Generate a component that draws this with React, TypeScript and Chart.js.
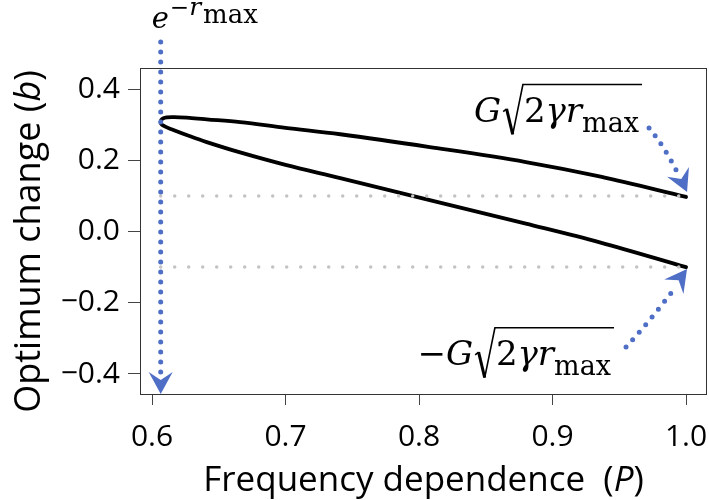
import React, { useEffect, useRef } from "react";
import { Chart, registerables } from "chart.js";

Chart.register(...registerables);

// ---- data ----
const X_TICKS = [0.6, 0.7, 0.8, 0.9, 1.0];
const Y_TICKS = [-0.4, -0.2, 0.0, 0.2, 0.4];
const X_MIN = 0.591;
const X_MAX = 1.0157;
const Y_MIN = -0.459;
const Y_MAX = 0.459;

// upper branch, from P = 1 back towards the fold
const UPPER_P = [1.0, 0.936, 0.88, 0.808, 0.741, 0.7, 0.666, 0.641, 0.628, 0.616, 0.6085];
const UPPER_B = [0.097, 0.154, 0.195, 0.237, 0.273, 0.291, 0.307, 0.315, 0.319, 0.321, 0.318];
// fold (tip) of the curve: P = e^{-r_max}
const TIP_P = 0.6065;
const TIP_B = 0.307;
// lower branch, from the fold out to P = 1
const LOWER_P = [0.6085, 0.616, 0.628, 0.641, 0.666, 0.7, 0.741, 0.808, 0.88, 0.936, 1.0];
const LOWER_B = [0.297, 0.285, 0.268, 0.251, 0.222, 0.187, 0.15, 0.088, 0.022, -0.031, -0.1];

// dotted bounds +/- G*sqrt(2*gamma*r_max)
const BOUNDS = [0.1, -0.1];
const BOUND_END_P = 1.0;

const BLUE = "#4f6fc6";
const SERIF = '"DejaVu Serif"';
const SANS = '"Open Sans"';

function arrowHead(ctx: CanvasRenderingContext2D, tx: number, ty: number, dx: number, dy: number, L = 22, W = 12, notch = 8) {
  const len = Math.hypot(dx, dy);
  const ux = dx / len, uy = dy / len;
  const px = -uy, py = ux;
  ctx.beginPath();
  ctx.moveTo(tx, ty);
  ctx.lineTo(tx - L * ux + W * px, ty - L * uy + W * py);
  ctx.lineTo(tx - (L - notch) * ux, ty - (L - notch) * uy);
  ctx.lineTo(tx - L * ux - W * px, ty - L * uy - W * py);
  ctx.closePath();
  ctx.fill();
}

function drawRootLabel(ctx: CanvasRenderingContext2D, rightX: number, base: number, negative: boolean, s: number) {
  const up = `${s}px ${SERIF}`;
  const it = `italic ${s}px ${SERIF}`;
  const sub = `${Math.round(s * 0.8)}px ${SERIF}`;
  const w = (t: string, f: string) => { ctx.font = f; return ctx.measureText(t).width; };
  const radW = s * 0.58;
  const parts: [string, string, number][] = [];
  if (negative) parts.push(["\u2212", up, 0]);
  parts.push(["G", it, 0]);
  let total = 0;
  parts.forEach(p => total += w(p[0], p[1]));
  total += 2 + radW;
  const rad: [string, string, number][] = [["2", up, 0], ["\u03B3", it, 0], ["r", it, 0], ["max", sub, 0.3 * s]];
  let radTotal = 0;
  rad.forEach(p => radTotal += w(p[0], p[1]));
  total += radTotal + 2;
  let x = rightX - total;
  ctx.fillStyle = "#000";
  ctx.textBaseline = "alphabetic";
  ctx.textAlign = "left";
  for (const p of parts) { ctx.font = p[1]; ctx.fillText(p[0], x, base + p[2]); x += w(p[0], p[1]); }
  x += 2;
  const top = base - 1.1 * s;
  const bot = base + 0.37 * s;
  ctx.strokeStyle = "#000";
  ctx.lineJoin = "miter";
  ctx.lineCap = "butt";
  ctx.lineWidth = 1.6;
  ctx.beginPath();
  ctx.moveTo(x, base - 0.3 * s);
  ctx.lineTo(x + 0.1 * s, base - 0.38 * s);
  ctx.stroke();
  ctx.lineWidth = 3;
  ctx.beginPath();
  ctx.moveTo(x + 0.1 * s, base - 0.38 * s);
  ctx.lineTo(x + 0.28 * s, bot);
  ctx.stroke();
  ctx.lineWidth = 1.6;
  ctx.beginPath();
  ctx.moveTo(x + 0.28 * s, bot);
  ctx.lineTo(x + radW, top);
  ctx.lineTo(x + radW + radTotal + 4, top);
  ctx.stroke();
  x += radW + 1;
  for (const p of rad) { ctx.font = p[1]; ctx.fillText(p[0], x, base + p[2]); x += w(p[0], p[1]); }
}

const annotations = {
  id: "annotations",
  afterDatasetsDraw(chart: any) {
    const { ctx, chartArea: a, scales } = chart;
    const xs = scales.x, ys = scales.y;
    ctx.save();
    // frame
    ctx.strokeStyle = "#333";
    ctx.lineWidth = 1;
    ctx.strokeRect(a.left + 0.5, a.top + 0.5, a.right - a.left - 1, a.bottom - a.top - 1);

    // vertical blue dotted arrow at P = e^{-r_max}
    const vx = xs.getPixelForValue(TIP_P);
    ctx.strokeStyle = BLUE;
    ctx.fillStyle = BLUE;
    ctx.lineWidth = 5;
    ctx.lineCap = "round";
    ctx.setLineDash([0, 10]);
    ctx.beginPath();
    ctx.moveTo(vx, 42);
    ctx.lineTo(vx, a.bottom - 20);
    ctx.stroke();
    // curved arrows towards the curve ends
    const endX = xs.getPixelForValue(BOUND_END_P);
    const yUp = ys.getPixelForValue(BOUNDS[0]);
    const yLo = ys.getPixelForValue(BOUNDS[1]);
    ctx.beginPath();
    ctx.moveTo(endX - 37, yUp - 68);
    ctx.quadraticCurveTo(endX - 22, yUp - 50, endX - 8, yUp - 22);
    ctx.stroke();
    ctx.beginPath();
    ctx.moveTo(endX - 60, yLo + 80);
    ctx.quadraticCurveTo(endX - 38, yLo + 56, endX - 12, yLo + 22);
    ctx.stroke();
    ctx.setLineDash([]);
    arrowHead(ctx, vx, a.bottom - 1, 0, 1);
    arrowHead(ctx, endX + 1, yUp - 4, 0.45, 1);
    arrowHead(ctx, endX + 1, yLo + 2, 0.75, -1);

    // e^{-r_max}
    ctx.fillStyle = "#000";
    ctx.textAlign = "left";
    ctx.textBaseline = "alphabetic";
    let x = vx - 9;
    ctx.font = `italic 29px ${SERIF}`;
    ctx.fillText("e", x, 28);
    x += ctx.measureText("e").width + 1;
    ctx.font = `23px ${SERIF}`;
    ctx.fillText("\u2212", x, 15);
    x += ctx.measureText("\u2212").width;
    ctx.font = `italic 25px ${SERIF}`;
    ctx.fillText("r", x, 15);
    x += ctx.measureText("r").width + 2;
    ctx.font = `26px ${SERIF}`;
    ctx.fillText("max", x, 23);

    drawRootLabel(ctx, endX - 46, yUp - 74, false, 34);
    drawRootLabel(ctx, endX - 74, yLo + 98, true, 34);

    // axis titles
    ctx.fillStyle = "#000";
    const drawMixed = (segs: [string, string][], cx: number, cy: number) => {
      let tot = 0;
      segs.forEach(sg => { ctx.font = sg[1]; tot += ctx.measureText(sg[0]).width; });
      let xx = cx - tot / 2;
      segs.forEach(sg => { ctx.font = sg[1]; ctx.fillText(sg[0], xx, cy); xx += ctx.measureText(sg[0]).width; });
    };
    const tf = `35px ${SANS}`;
    const tfi = `italic 35px ${SANS}`;
    drawMixed([["Frequency dependence  (", tf], ["P", tfi], [")", tf]], (a.left + a.right) / 2, 491);
    ctx.save();
    ctx.translate(40, (a.top + a.bottom) / 2 + 10);
    ctx.rotate(-Math.PI / 2);
    drawMixed([["Optimum change (", `36px ${SANS}`], ["b", `italic 36px ${SANS}`], [")", `36px ${SANS}`]], 0, 0);
    ctx.restore();
    ctx.restore();
  },
};

export default function App() {
  const ref = useRef<HTMLCanvasElement | null>(null);
  useEffect(() => {
    document.body.style.margin = "0";
    const curve = [
      ...UPPER_P.map((p, i) => ({ x: p, y: UPPER_B[i] })),
      { x: TIP_P, y: TIP_B },
      ...LOWER_P.map((p, i) => ({ x: p, y: LOWER_B[i] })),
    ];
    const boundSets = BOUNDS.map(b => ({
      data: [{ x: TIP_P, y: b }, { x: BOUND_END_P, y: b }],
      borderColor: "#c3c3c3",
      borderWidth: 3.5,
      borderDash: [0, 14],
      borderCapStyle: "round",
      pointRadius: 0,
      tension: 0,
    }));
    const chart = new Chart(ref.current!, {
      type: "line",
      data: {
        datasets: [
          ...boundSets,
          {
            data: curve,
            borderColor: "#000",
            borderWidth: 3.8,
            pointRadius: 0,
            tension: 0.35,
            borderCapStyle: "round",
            borderJoinStyle: "round",
          },
        ] as any,
      },
      options: {
        animation: false,
        responsive: false,
        parsing: false as any,
        layout: { padding: { top: 68, right: 2, left: 0, bottom: 0 } },
        plugins: { legend: { display: false }, tooltip: { enabled: false } },
        scales: {
          x: {
            type: "linear",
            min: X_MIN,
            max: X_MAX,
            afterFit: (s: any) => { s.height = 105; s.paddingLeft = 0; s.paddingRight = 0; },
            afterBuildTicks: (s: any) => { s.ticks = X_TICKS.map(v => ({ value: v })); },
            grid: { display: true, drawOnChartArea: false, drawTicks: true, tickLength: 10, color: "#444", tickWidth: 1 },
            border: { display: false },
            ticks: {
              color: "#000",
              font: { family: "Open Sans", size: 30 },
              padding: 14,
              maxRotation: 0,
              callback: (v: any) => Number(v).toFixed(1),
            },
          },
          y: {
            type: "linear",
            min: Y_MIN,
            max: Y_MAX,
            afterFit: (s: any) => { s.width = 140; s.paddingTop = 0; s.paddingBottom = 0; },
            afterBuildTicks: (s: any) => { s.ticks = Y_TICKS.map(v => ({ value: v })); },
            grid: { display: true, drawOnChartArea: false, drawTicks: true, tickLength: 12, color: "#444", tickWidth: 1 },
            border: { display: false },
            ticks: {
              color: "#000",
              font: { family: "Open Sans", size: 30 },
              padding: 8,
              callback: (v: any) => {
                const n = Number(v);
                const t = Math.abs(n).toFixed(1);
                return n < -1e-9 ? "\u2212" + t : t;
              },
            },
          },
        },
      },
      plugins: [annotations],
    });
    return () => chart.destroy();
  }, []);
  return (
    <div style={{ width: 709, height: 500, overflow: "hidden" }}>
      <canvas ref={ref} width={709} height={500} style={{ display: "block", width: 709, height: 500 }} />
    </div>
  );
}
